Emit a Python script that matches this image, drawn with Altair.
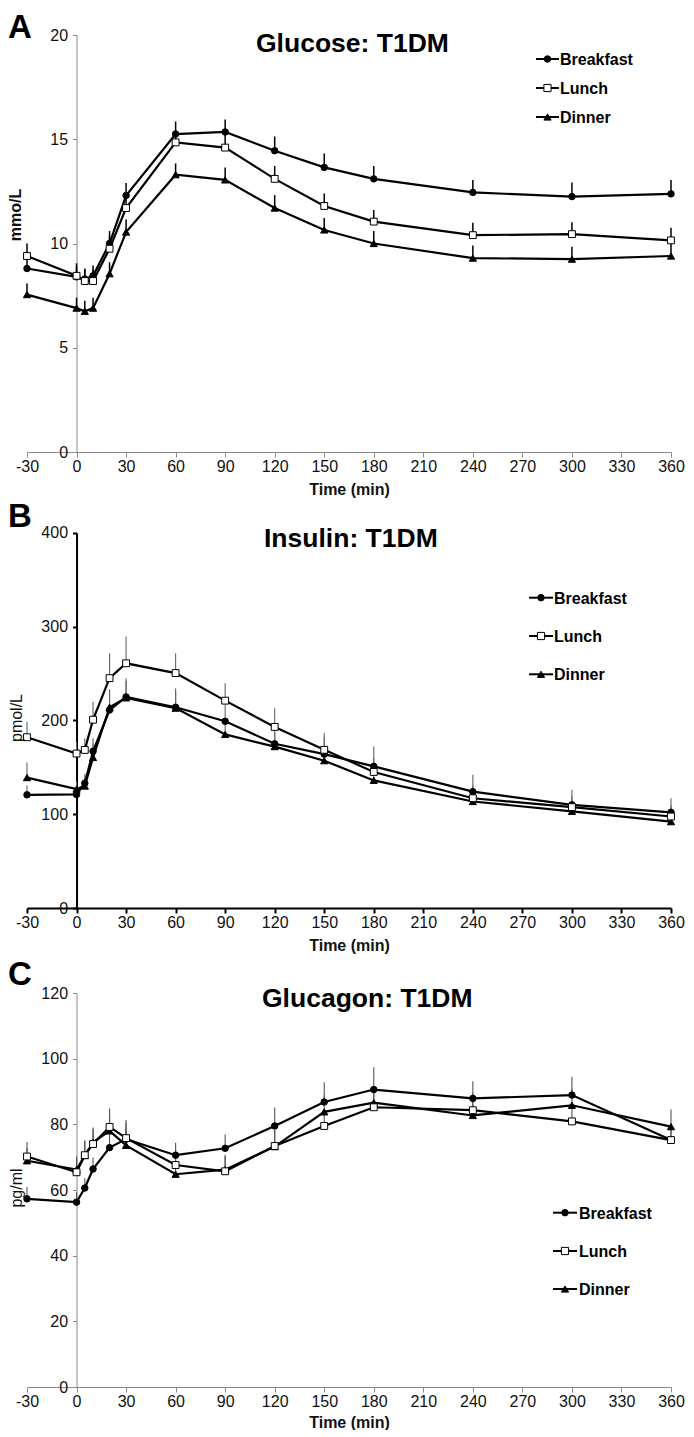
import altair as alt
import pandas as pd

# ---------------- data ----------------
TIME = [-30, 0, 5, 10, 20, 30, 60, 90, 120, 150, 180, 240, 300, 360]
MEALS = ["Breakfast", "Lunch", "Dinner"]
X_TICKS = [-30, 0, 30, 60, 90, 120, 150, 180, 210, 240, 270, 300, 330, 360]

# Glucose (mmol/L)
GLUCOSE_BREAKFAST = [8.8, 8.4, 8.3, 8.45, 10.0, 12.3, 15.25, 15.35, 14.45, 13.65, 13.1, 12.45, 12.25, 12.38]
GLUCOSE_LUNCH = [9.4, 8.45, 8.2, 8.2, 9.75, 11.7, 14.85, 14.6, 13.1, 11.8, 11.05, 10.4, 10.45, 10.15]
GLUCOSE_DINNER = [7.55, 6.9, 6.75, 6.9, 8.55, 10.55, 13.3, 13.05, 11.7, 10.65, 10.0, 9.3, 9.25, 9.4]
GLUCOSE_SEM_BREAKFAST = [0.55, 0.5, 0.5, 0.5, 0.6, 0.6, 0.6, 0.6, 0.68, 0.67, 0.62, 0.6, 0.67, 0.67]
GLUCOSE_SEM_LUNCH = [0.6, 0.6, 0.55, 0.55, 0.6, 0.6, 0.55, 0.6, 0.62, 0.6, 0.56, 0.59, 0.57, 0.6]
GLUCOSE_SEM_DINNER = [0.53, 0.5, 0.5, 0.5, 0.55, 0.6, 0.54, 0.59, 0.62, 0.57, 0.6, 0.6, 0.6, 0.6]
GLUCOSE_TICKS = [0, 5, 10, 15, 20]

# Insulin (pmol/L)
INSULIN_BREAKFAST = [120.6, 121, 133, 167, 211, 225, 214, 199, 175, 164, 151, 124, 110, 102]
INSULIN_LUNCH = [182, 164.6, 168.5, 200.7, 245, 260.8, 250.4, 221, 193, 168.6, 145, 117, 107.5, 97.5]
INSULIN_DINNER = [139, 126.7, 130, 160.4, 214, 224, 213, 185, 172, 157, 136, 113.5, 103, 92]
INSULIN_SEM_BREAKFAST = [10, 8, 10, 14, 22, 20, 20, 18, 18, 18, 21, 18, 16, 15]
INSULIN_SEM_LUNCH = [16.5, 12, 12.5, 19, 26.5, 28.5, 21, 18.5, 20, 18, 15, 14, 12, 12]
INSULIN_SEM_DINNER = [16, 8, 8, 15, 18, 18, 18, 15, 15, 14, 12, 10, 10, 8]
INSULIN_TICKS = [0, 100, 200, 300, 400]

# Glucagon (pg/ml)
GLUCAGON_BREAKFAST = [57.3, 56.3, 60.6, 66.4, 72.9, 75.5, 70.6, 72.7, 79.5, 86.8, 90.6, 87.9, 88.9, 75.2]
GLUCAGON_LUNCH = [70.2, 65.4, 70.6, 74.0, 79.2, 75.8, 67.6, 65.7, 73.4, 79.5, 85.2, 84.3, 80.9, 75.2]
GLUCAGON_DINNER = [68.9, 66.2, 70.5, 74.5, 78.0, 73.6, 64.8, 66.2, 73.2, 83.8, 86.6, 82.7, 85.8, 79.3]
GLUCAGON_SEM_BREAKFAST = [3.6, 3, 3, 3.5, 4, 5, 3.8, 4.2, 5.6, 6, 6.8, 5.2, 5.6, 5]
GLUCAGON_SEM_LUNCH = [4.4, 4, 4.5, 4.5, 5.6, 5.5, 4.5, 4.5, 5, 5, 5, 5, 5, 5]
GLUCAGON_SEM_DINNER = [4, 4, 4.5, 4.5, 5, 5, 4.5, 4.5, 5, 5, 5, 5, 5, 5.2]
GLUCAGON_TICKS = [0, 20, 40, 60, 80, 100, 120]

FONT = "Liberation Sans"
DRAW_ORDER = ["Dinner", "Breakfast", "Lunch"]
ONE = pd.DataFrame({"k": [0]})
SHAPES = {"Breakfast": "circle", "Lunch": "square", "Dinner": "triangle-up"}
FILLS = {"Breakfast": "black", "Lunch": "white", "Dinner": "black"}
SIZES = {"Breakfast": 42, "Lunch": 52, "Dinner": 52}
PLOT_W = 644


def build_df(vals, sems):
    rows = []
    for meal in DRAW_ORDER:
        for t, v, e in zip(TIME, vals[meal], sems[meal]):
            rows.append({"time": t, "value": v, "upper": v + e, "meal": meal})
    return pd.DataFrame(rows)


def panel(cfg):
    df = build_df(cfg["vals"], cfg["sems"])
    ac = cfg["axis_color"]
    aw = cfg["axis_width"]
    x_enc = alt.X(
        "time:Q",
        scale=alt.Scale(domain=[-30, 360], nice=False, zero=False),
        axis=alt.Axis(
            values=X_TICKS, labelExpr="'' + datum.value", title="Time (min)", grid=False,
            labelFlush=False, labelOverlap=False,
            tickSize=5, labelPadding=cfg.get("label_pad", 1), titlePadding=cfg.get("title_pad", 7),
            labelFont=FONT, labelFontSize=16, labelColor="#111",
            titleFont=FONT, titleFontSize=16, titleFontWeight="bold", titleColor="#111",
            domainColor=ac, tickColor=ac, domainWidth=aw, tickWidth=aw,
        ),
    )
    y_axis = alt.Axis(
        values=cfg["ticks"], format="d", title=None, grid=False, offset=-PLOT_W * 30 / 390,
        tickSize=4, labelPadding=5, labelFont=FONT, labelFontSize=16, labelColor="#111",
        domainColor=ac, tickColor=ac, domainWidth=aw, tickWidth=aw,
    )
    y_scale = alt.Scale(domain=[0, cfg["ymax"]], range=[cfg["height"], cfg["top"]], nice=False, zero=True)
    y_enc = alt.Y("value:Q", scale=y_scale, axis=y_axis)

    err = alt.Chart(df).mark_rule(color=cfg["err_color"], strokeWidth=cfg["err_width"]).encode(
        x=x_enc, y=y_enc, y2="upper:Q", detail="meal:N"
    )
    line = alt.Chart(df).mark_line(color="black").encode(
        x=x_enc, y=y_enc, detail="meal:N", order="time:Q",
        strokeWidth=alt.StrokeWidth("meal:N", scale=alt.Scale(domain=MEALS, range=cfg["line_widths"]), legend=None),
    )
    pts = alt.Chart(df).mark_point(filled=True, stroke="black", strokeWidth=1, opacity=1).encode(
        x=x_enc, y=y_enc,
        shape=alt.Shape("meal:N", scale=alt.Scale(domain=MEALS, range=[SHAPES[m] for m in MEALS]), legend=None),
        fill=alt.Fill("meal:N", scale=alt.Scale(domain=MEALS, range=[FILLS[m] for m in MEALS]), legend=None),
        size=alt.Size("meal:N", scale=alt.Scale(domain=MEALS, range=[SIZES[m] for m in MEALS]), legend=None),
    )

    layers = [err, line, pts]

    # panel letter
    layers.append(alt.Chart(ONE).mark_text(
        text=cfg["letter"], font=FONT, fontSize=33, fontWeight="bold", align="left",
        baseline="alphabetic", color="black",
    ).encode(x=alt.value(-19), y=alt.value(cfg["letter_y"])))
    # title
    layers.append(alt.Chart(ONE).mark_text(
        text=cfg["title"], font=FONT, fontSize=26.5, fontWeight="bold", align="left",
        baseline="alphabetic", color="black",
    ).encode(x=alt.value(cfg["title_x"]), y=alt.value(cfg["title_y"])))
    # y title
    layers.append(alt.Chart(ONE).mark_text(
        text=cfg["ytitle"], font=FONT, fontSize=16, fontWeight=cfg["ytitle_weight"], align="center",
        baseline="middle", angle=270, color="#111",
    ).encode(x=alt.value(cfg["ytitle_x"]), y=alt.value(cfg["ytitle_y"])))

    # legend
    lx0, lx1, tx = cfg["leg_x0"], cfg["leg_x1"], cfg["leg_tx"]
    for i, meal in enumerate(MEALS):
        ly = cfg["leg_y"][i]
        layers.append(alt.Chart(ONE).mark_rule(color="black", strokeWidth=2).encode(
            x=alt.value(lx0), x2=alt.value(lx1), y=alt.value(ly)))
        layers.append(alt.Chart(ONE).mark_point(
            shape=SHAPES[meal], fill=FILLS[meal], filled=True, stroke="black", strokeWidth=1,
            size=SIZES[meal], opacity=1,
        ).encode(x=alt.value((lx0 + lx1) / 2), y=alt.value(ly)))
        layers.append(alt.Chart(ONE).mark_text(
            text=meal, font=FONT, fontSize=16, fontWeight="bold", align="left",
            baseline="alphabetic", color="black",
        ).encode(x=alt.value(tx), y=alt.value(ly + 6)))

    return alt.layer(*layers).properties(width=PLOT_W, height=cfg["height"])


# panel A: group top at page ~2
glucose = panel(dict(
    vals={"Breakfast": GLUCOSE_BREAKFAST, "Lunch": GLUCOSE_LUNCH, "Dinner": GLUCOSE_DINNER},
    sems={"Breakfast": GLUCOSE_SEM_BREAKFAST, "Lunch": GLUCOSE_SEM_LUNCH, "Dinner": GLUCOSE_SEM_DINNER},
    ticks=GLUCOSE_TICKS, ymax=20, height=450, top=33,
    axis_color="#8a8a8a", axis_width=1, err_color="black", err_width=1.5,
    line_widths=[2.2, 2.2, 2.2],
    letter="A", letter_y=36.2, title="Glucose: T1DM", title_x=229, title_y=50,
    ytitle="mmo/L", ytitle_weight="bold", ytitle_x=-11, ytitle_y=213,
    leg_x0=509, leg_x1=532, leg_tx=533, leg_y=[57, 86, 115],
))

# panel B: group top at page ~452
insulin = panel(dict(
    vals={"Breakfast": INSULIN_BREAKFAST, "Lunch": INSULIN_LUNCH, "Dinner": INSULIN_DINNER},
    sems={"Breakfast": INSULIN_SEM_BREAKFAST, "Lunch": INSULIN_SEM_LUNCH, "Dinner": INSULIN_SEM_DINNER},
    ticks=INSULIN_TICKS, ymax=400, height=456, top=80.7,
    axis_color="black", axis_width=2, err_color="#666", err_width=1.1,
    line_widths=[1.8, 1.3, 1.5],
    letter="B", letter_y=75, title="Insulin: T1DM", title_x=237, title_y=95.3,
    ytitle="pmol/L", ytitle_weight="normal", ytitle_x=-10, ytitle_y=266,
    leg_x0=502, leg_x1=526, leg_tx=527, leg_y=[145.7, 184, 222.3],
))

# panel C: group top at page ~908
glucagon = panel(dict(
    vals={"Breakfast": GLUCAGON_BREAKFAST, "Lunch": GLUCAGON_LUNCH, "Dinner": GLUCAGON_DINNER},
    sems={"Breakfast": GLUCAGON_SEM_BREAKFAST, "Lunch": GLUCAGON_SEM_LUNCH, "Dinner": GLUCAGON_SEM_DINNER},
    ticks=GLUCAGON_TICKS, ymax=120, height=479, top=85,
    axis_color="#8a8a8a", axis_width=1, err_color="#555", err_width=1.1,
    line_widths=[2.2, 2.0, 2.2],
    letter="C", letter_y=77, title="Glucagon: T1DM", title_x=235, title_y=98.7,
    ytitle="pg/ml", ytitle_weight="normal", ytitle_x=-10, ytitle_y=280,
    leg_x0=526, leg_x1=550, leg_tx=552, leg_y=[304.7, 343, 381],
    label_pad=1, title_pad=5,
))

chart = alt.vconcat(glucose, insulin, glucagon, spacing=0, bounds="flush").properties(
    padding={"left": 0, "top": -6, "right": 0, "bottom": 0},
    background="white",
).configure_view(stroke=None)

chart.save("out.html", embed_options={"renderer": "svg", "actions": False})
